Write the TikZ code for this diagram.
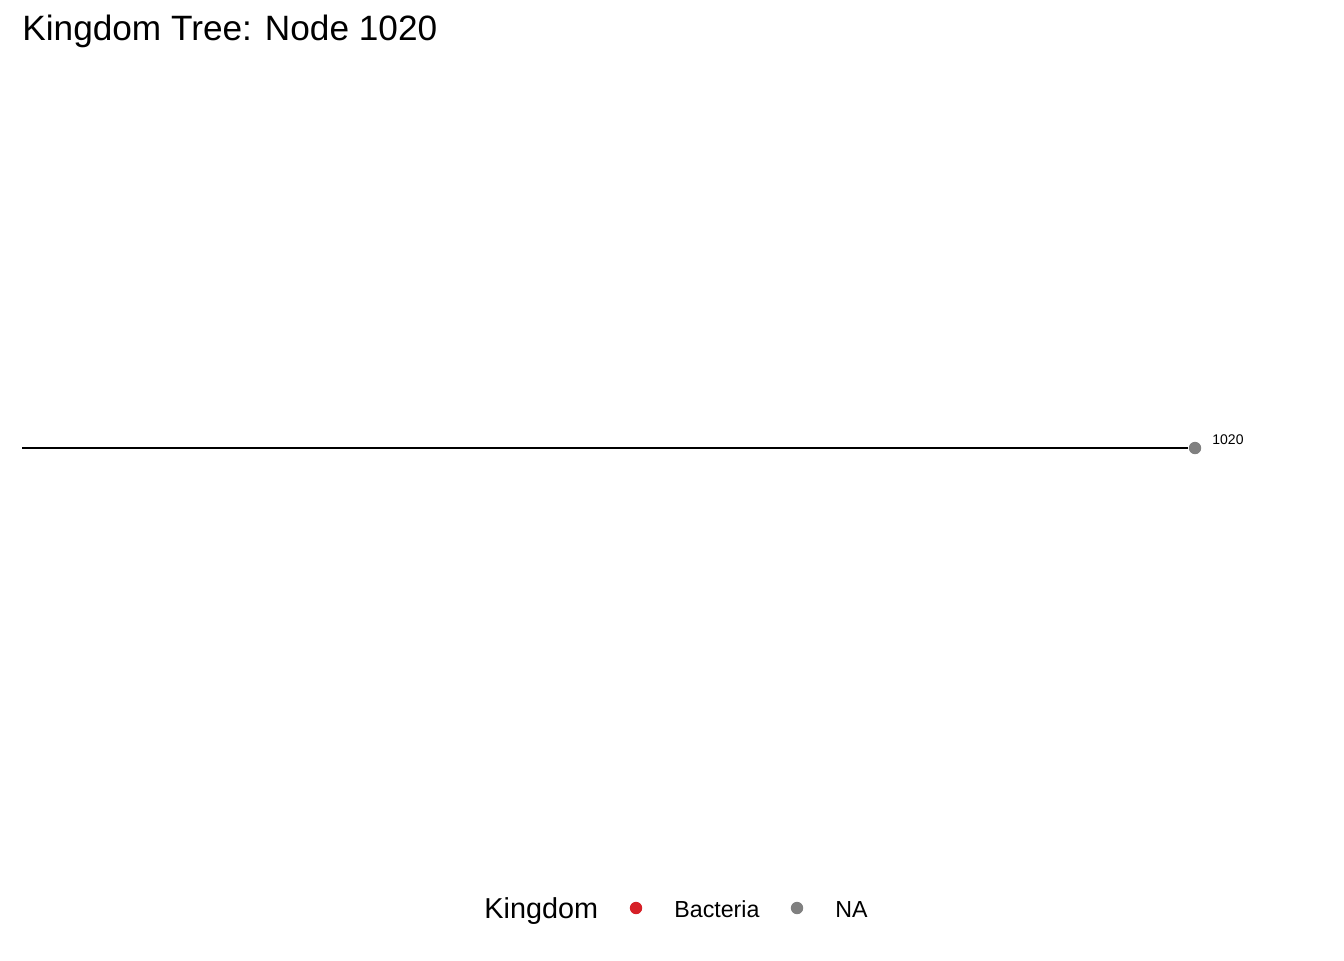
\documentclass[tikz,border=0pt]{standalone}
\usepackage{fontspec}
\setmainfont{Liberation Sans}
\usepackage{xcolor}
\usetikzlibrary{positioning}
\definecolor{kingdomRed}{RGB}{214,32,39}
\definecolor{kingdomGrey}{RGB}{128,128,128}

\tikzset{
  tippoint/.style={circle,fill=#1,inner sep=0pt,minimum size=6.2pt},
  legendtext/.style={anchor=base west,inner sep=0pt,font=\fontsize{11.6}{13}\selectfont},
  branch/.style={line width=1.4pt,black}
}

\begin{document}
\begin{tikzpicture}[x=0.5pt,y=-0.5pt]
\useasboundingbox (0,0) rectangle (1344,960);
% title
\node[anchor=base west,inner sep=0pt,font=\fontsize{17.6}{20}\selectfont] (title) at (22,40) {Kingdom Tree: Node 1020};
% tree
\coordinate (root) at (22,448);
\node[tippoint=kingdomGrey] (tip) at (1195,448) {};
\draw[branch] (root) -- (tip.west);
\node[anchor=base west,inner sep=0pt,font=\fontsize{7}{8}\selectfont] (tiplabel) at (1212,444) {1020};
% legend
\node[anchor=base west,inner sep=0pt,font=\fontsize{14.4}{16}\selectfont] (legtitle) at (484,918) {Kingdom};
\node[tippoint=kingdomRed] (legred) at (636,908) {};
\node[legendtext] (legbact) at (674,917) {Bacteria};
\node[tippoint=kingdomGrey] (leggrey) at (797,908) {};
\node[legendtext] (legna) at (835,917) {NA};
\end{tikzpicture}
\end{document}
